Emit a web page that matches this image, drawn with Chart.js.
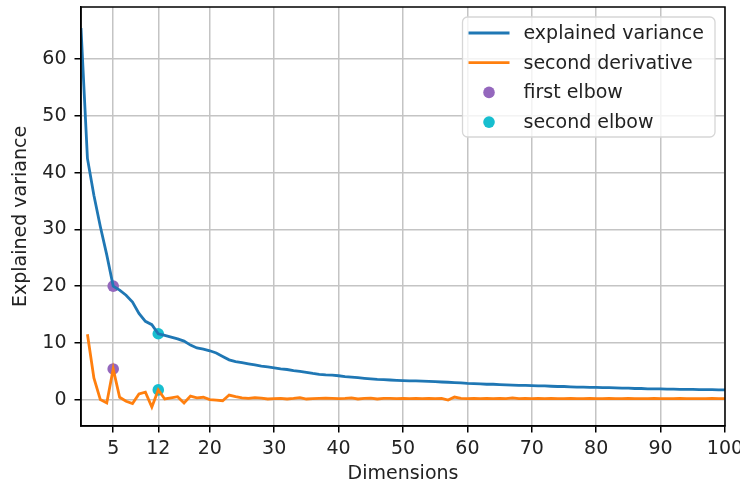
<!DOCTYPE html>
<html>
<head>
<meta charset="utf-8">
<script src="https://cdn.jsdelivr.net/npm/chart.js@4.4.0/dist/chart.umd.min.js"></script>
<style>
  html, body { margin: 0; padding: 0; background: #fff; }
</style>
</head>
<body>
<canvas id="chart" width="740" height="487"></canvas>
<script>
// number of kept dimensions
const dims = [0, 1, 2, 3, 4, 5, 6, 7, 8, 9, 10, 11, 12, 13, 14, 15, 16, 17, 18, 19, 20,
  21, 22, 23, 24, 25, 26, 27, 28, 29, 30, 31, 32, 33, 34, 35, 36, 37, 38, 39, 40,
  41, 42, 43, 44, 45, 46, 47, 48, 49, 50, 51, 52, 53, 54, 55, 56, 57, 58, 59, 60,
  61, 62, 63, 64, 65, 66, 67, 68, 69, 70, 71, 72, 73, 74, 75, 76, 77, 78, 79, 80,
  81, 82, 83, 84, 85, 86, 87, 88, 89, 90, 91, 92, 93, 94, 95, 96, 97, 98, 99, 100];

const explainedVariance = [65.5, 42.5, 36.0, 30.5, 25.5, 20.0, 19.3, 18.4, 17.2, 15.2,
  13.8, 13.2, 11.6, 11.3, 11.0, 10.7, 10.3, 9.6, 9.1, 8.9,
  8.6, 8.2, 7.6, 7.0, 6.7, 6.5, 6.3, 6.1, 5.9, 5.75,
  5.6, 5.4, 5.3, 5.1, 4.95, 4.8, 4.6, 4.45, 4.35, 4.3,
  4.2, 4.05, 3.95, 3.85, 3.75, 3.65, 3.55, 3.5, 3.45, 3.4,
  3.35, 3.3, 3.3, 3.25, 3.2, 3.15, 3.1, 3.05, 3.0, 2.95,
  2.85, 2.8, 2.75, 2.7, 2.7, 2.65, 2.6, 2.55, 2.5, 2.5,
  2.45, 2.4, 2.4, 2.35, 2.3, 2.3, 2.25, 2.2, 2.2, 2.15,
  2.15, 2.1, 2.1, 2.05, 2.0, 2.0, 1.95, 1.95, 1.9, 1.9,
  1.9, 1.85, 1.85, 1.8, 1.8, 1.8, 1.75, 1.75, 1.75, 1.7, 1.7];

// second derivative starts at dimension 1
const secondDerivative = [11.5, 3.8, 0.0, -0.6, 5.4, 0.4, -0.3, -0.7, 1.0, 1.3,
  -1.3, 1.7, 0.1, 0.3, 0.5, -0.6, 0.6, 0.3, 0.4, 0.0,
  -0.1, -0.2, 0.8, 0.5, 0.3, 0.2, 0.35, 0.25, 0.1, 0.15,
  0.2, 0.1, 0.2, 0.35, 0.1, 0.15, 0.2, 0.25, 0.2, 0.15,
  0.2, 0.3, 0.1, 0.2, 0.25, 0.1, 0.2, 0.2, 0.15, 0.2,
  0.15, 0.2, 0.15, 0.2, 0.15, 0.2, -0.1, 0.45, 0.2, 0.15,
  0.2, 0.15, 0.2, 0.15, 0.2, 0.15, 0.3, 0.15, 0.2, 0.15,
  0.2, 0.15, 0.2, 0.15, 0.15, 0.2, 0.15, 0.15, 0.2, 0.15,
  0.15, 0.2, 0.15, 0.15, 0.2, 0.15, 0.15, 0.15, 0.2, 0.15,
  0.15, 0.15, 0.2, 0.15, 0.15, 0.15, 0.15, 0.2, 0.15, 0.15];

const firstElbow = 5;
const secondElbow = 12;

const xTicks = [5, 12, 20, 30, 40, 50, 60, 70, 80, 90, 100];
const yTicks = [0, 10, 20, 30, 40, 50, 60];

const FONT = { family: 'DejaVu Sans', size: 19 };
const TEXT_COLOR = '#222';

const varianceAt = d => explainedVariance[dims.indexOf(d)];
const derivAt = d => secondDerivative[dims.indexOf(d) - 1];

// closed box around the plot area, like axes spines
const frame = {
  id: 'frame',
  afterDatasetsDraw(chart) {
    const { ctx, chartArea: a } = chart;
    ctx.save();
    ctx.strokeStyle = '#000';
    ctx.lineWidth = 1.5;
    ctx.strokeRect(a.left, a.top, a.right - a.left, a.bottom - a.top);
    ctx.restore();
  }
};

// legend in the upper right corner of the plot
const cornerLegend = {
  id: 'cornerLegend',
  afterDraw(chart) {
    const { ctx, chartArea: a } = chart;
    const sets = chart.data.datasets;
    ctx.save();
    ctx.font = `${FONT.size}px ${FONT.family}`;
    const textW = Math.max(...sets.map(s => ctx.measureText(s.label).width));
    const w = 68 + textW + 4, h = 120, rowH = 29.7;
    const left = a.right - 10 - w, top = a.top + 10;

    ctx.beginPath();
    ctx.roundRect(left, top, w, h, 5);
    ctx.fillStyle = 'rgba(255,255,255,0.8)';
    ctx.fill();
    ctx.strokeStyle = '#d6d6d6';
    ctx.lineWidth = 1.3;
    ctx.stroke();

    sets.forEach((s, i) => {
      const y = top + 16 + i * rowH;
      if (s.type === 'scatter') {
        ctx.beginPath();
        ctx.arc(left + 26.5, y, s.pointRadius, 0, Math.PI * 2);
        ctx.fillStyle = s.backgroundColor;
        ctx.fill();
      } else {
        ctx.beginPath();
        ctx.moveTo(left + 6, y);
        ctx.lineTo(left + 47, y);
        ctx.strokeStyle = s.borderColor;
        ctx.lineWidth = s.borderWidth;
        ctx.stroke();
      }
      ctx.fillStyle = TEXT_COLOR;
      ctx.textBaseline = 'middle';
      ctx.textAlign = 'left';
      ctx.fillText(s.label, left + 61, y + 1);
    });
    ctx.restore();
  }
};

const ctx = document.getElementById('chart').getContext('2d');
new Chart(ctx, {
  type: 'line',
  data: {
    datasets: [
      {
        label: 'explained variance',
        data: dims.map((d, i) => ({ x: d, y: explainedVariance[i] })),
        borderColor: '#1f77b4',
        borderWidth: 2.8,
        pointRadius: 0,
        tension: 0
      },
      {
        label: 'second derivative',
        data: dims.slice(1).map((d, i) => ({ x: d, y: secondDerivative[i] })),
        borderColor: '#ff7f0e',
        borderWidth: 2.8,
        pointRadius: 0,
        tension: 0
      },
      {
        type: 'scatter',
        label: 'first elbow',
        data: [
          { x: firstElbow, y: varianceAt(firstElbow) },
          { x: firstElbow, y: derivAt(firstElbow) }
        ],
        backgroundColor: '#9467bd',
        borderWidth: 0,
        pointRadius: 5.8
      },
      {
        type: 'scatter',
        label: 'second elbow',
        data: [
          { x: secondElbow, y: varianceAt(secondElbow) },
          { x: secondElbow, y: derivAt(secondElbow) }
        ],
        backgroundColor: '#17becf',
        borderWidth: 0,
        pointRadius: 5.8
      }
    ]
  },
  options: {
    responsive: false,
    animation: false,
    devicePixelRatio: 1,
    layout: { padding: { top: 7, right: 15, left: 0, bottom: 0 } },
    plugins: { legend: { display: false }, tooltip: { enabled: false } },
    scales: {
      x: {
        type: 'linear',
        min: 0,
        max: 100,
        afterBuildTicks: s => { s.ticks = xTicks.map(v => ({ value: v })); },
        afterFit: s => { s.height = 61; s.paddingLeft = 0; s.paddingRight = 0; },
        grid: { color: '#c4c4c4', lineWidth: 1.5, tickColor: '#000', tickLength: 6.5 },
        border: { color: '#000', width: 1.5 },
        ticks: { color: TEXT_COLOR, font: FONT, padding: 5, maxRotation: 0, autoSkip: false },
        title: { display: true, text: 'Dimensions', color: TEXT_COLOR, font: FONT, padding: { top: 0, bottom: 2 } }
      },
      y: {
        type: 'linear',
        min: -4.66,
        max: 69.2,
        afterBuildTicks: s => { s.ticks = yTicks.map(v => ({ value: v })); },
        afterFit: s => { s.width = 81; s.paddingTop = 0; s.paddingBottom = 0; },
        grid: { color: '#c4c4c4', lineWidth: 1.5, tickColor: '#000', tickLength: 6.5 },
        border: { color: '#000', width: 1.5 },
        ticks: { color: TEXT_COLOR, font: FONT, padding: 8 },
        title: { display: true, text: 'Explained variance', color: TEXT_COLOR, font: FONT, padding: { top: 10, bottom: 0 } }
      }
    }
  },
  plugins: [frame, cornerLegend]
});
</script>
</body>
</html>
